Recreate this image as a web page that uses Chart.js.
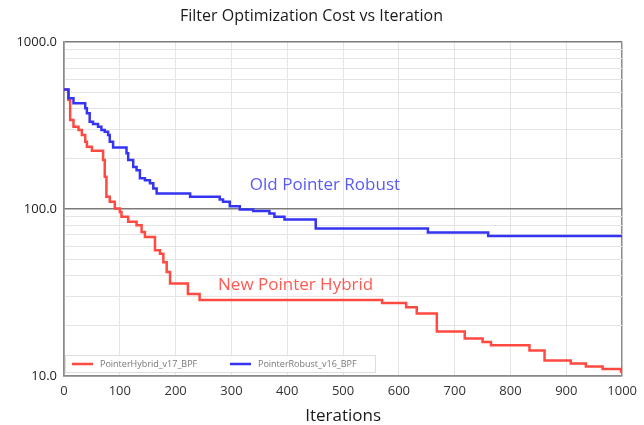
<!DOCTYPE html>
<html>
<head>
<meta charset="utf-8">
<script src="https://cdn.jsdelivr.net/npm/chart.js@4.4.1/dist/chart.umd.min.js"></script>
<style>
  html, body { margin: 0; padding: 0; background: #ffffff; }
  #wrap { width: 644px; height: 425px; position: relative; }
</style>
</head>
<body>
<div id="wrap"><canvas id="costChart" width="644" height="425"></canvas></div>
<script>
// Data
const robustIter = [0, 8, 17, 38, 41, 46, 52, 61, 67, 73, 79, 82, 88, 112, 115, 118, 124, 130, 136, 145, 154, 160, 166, 226, 279, 285, 297, 315, 339, 368, 377, 395, 451, 652, 760, 1000]
const robustCost = [520, 461, 431, 402, 375, 334, 324, 312, 298, 291, 278, 253, 234, 216, 197, 197, 179, 171, 153, 149, 143, 133, 124, 118.5, 114, 110.6, 104, 99.6, 97.3, 94, 90, 86.7, 76.6, 72.5, 69, 69]

const hybridIter = [0, 8, 11, 17, 26, 32, 38, 41, 50, 70, 73, 76, 82, 91, 100, 103, 115, 130, 139, 145, 163, 172, 178, 184, 190, 222, 243, 570, 613, 632, 668, 718, 750, 765, 834, 861, 908, 935, 965, 998, 1000]
const hybridCost = [520, 451, 342, 312, 298, 278, 253, 236, 224, 197, 156, 118.5, 110.6, 101, 96, 90, 84, 80, 73, 68, 56.7, 54, 48, 42, 35.8, 31, 28.5, 27.4, 25.8, 23.7, 18.5, 16.8, 16, 15.3, 14.2, 12.4, 11.9, 11.4, 11.0, 10.6, 10.6]

const iterTicks = [0, 100, 200, 300, 400, 500, 600, 700, 800, 900, 1000]
const costTicks = [10, 20, 30, 40, 50, 60, 70, 80, 90, 100, 200, 300, 400, 500, 600, 700, 800, 900, 1000]
const costLabels = { 10: "10.0", 100: "100.0", 1000: "1000.0" }

const seriesNames = ["PointerHybrid_v17_BPF", "PointerRobust_v16_BPF"]
const seriesColors = ["#ff4a42", "#3434f2"]

// Chart text
const chartTitle = "Filter Optimization Cost vs Iteration"
const xTitle = "Iterations"
const notes = [
  { text: "Old Pointer Robust", x: 333, y: 139, color: "#5a5af5" },
  { text: "New Pointer Hybrid", x: 276, y: 35, color: "#ff5a52" },
]

const FONT = "'Open Sans', 'Liberation Sans', sans-serif"

function toPoints(xs, ys) {
  return xs.map((x, i) => ({ x: x, y: ys[i] }))
}

// Annotations and inner legend
const overlayPlugin = {
  id: "overlay",
  afterDatasetsDraw(chart) {
    const ctx = chart.ctx
    const xs = chart.scales.x
    const ys = chart.scales.y
    ctx.save()

    ctx.font = "17px " + FONT
    ctx.textBaseline = "middle"
    ctx.textAlign = "left"
    notes.forEach((n) => {
      ctx.fillStyle = n.color
      ctx.fillText(n.text, xs.getPixelForValue(n.x), ys.getPixelForValue(n.y))
    })

    // legend box in the lower-left corner of the plot
    const left = chart.chartArea.left + 1
    const bottom = chart.chartArea.bottom - 4
    const boxH = 17
    const boxW = 310
    ctx.fillStyle = "rgba(255,255,255,0.92)"
    ctx.fillRect(left, bottom - boxH, boxW, boxH)
    ctx.strokeStyle = "#dddddd"
    ctx.lineWidth = 1
    ctx.strokeRect(left + 0.5, bottom - boxH + 0.5, boxW, boxH)

    ctx.font = "9px " + FONT
    const midY = bottom - boxH / 2 + 0.5
    const itemX = [left + 7, left + 165]
    seriesNames.forEach((name, i) => {
      ctx.strokeStyle = seriesColors[i]
      ctx.lineWidth = 2.5
      ctx.beginPath()
      ctx.moveTo(itemX[i], midY)
      ctx.lineTo(itemX[i] + 21, midY)
      ctx.stroke()
      ctx.fillStyle = "#777777"
      ctx.fillText(name, itemX[i] + 28, midY)
    })
    ctx.restore()
  },
}

new Chart(document.getElementById("costChart"), {
  type: "line",
  data: {
    datasets: [
      {
        label: seriesNames[1],
        data: toPoints(robustIter, robustCost),
        borderColor: seriesColors[1],
        borderWidth: 2.5,
        stepped: true,
        pointRadius: 0,
      },
      {
        label: seriesNames[0],
        data: toPoints(hybridIter, hybridCost),
        borderColor: seriesColors[0],
        borderWidth: 2.5,
        stepped: true,
        pointRadius: 0,
      },
    ],
  },
  options: {
    responsive: false,
    animation: false,
    layout: { padding: { left: 0, right: 21, top: 0, bottom: 0 } },
    plugins: {
      legend: { display: false },
      tooltip: { enabled: false },
      title: {
        display: true,
        text: chartTitle,
        color: "#1a1a1a",
        font: { family: FONT, size: 16, weight: "normal", lineHeight: 1.2 },
        padding: { top: 7, bottom: 16 },
      },
    },
    scales: {
      x: {
        type: "linear",
        min: 0,
        max: 1000,
        afterBuildTicks: (s) => { s.ticks = iterTicks.map((v) => ({ value: v })) },
        afterFit: (s) => { s.height = 49 },
        ticks: {
          color: "#333333",
          font: { family: FONT, size: 13 },
          padding: 7,
          maxRotation: 0,
          callback: (v) => String(v),
        },
        grid: {
          drawTicks: false,
          color: (c) => (c.tick && (c.tick.value === 0 || c.tick.value === 1000) ? "#8a8a8a" : "#e4e4e4"),
          lineWidth: (c) => (c.tick && (c.tick.value === 0 || c.tick.value === 1000) ? 1.5 : 1),
        },
        border: { color: "#8a8a8a", width: 1.5 },
        title: {
          display: true,
          text: xTitle,
          color: "#1a1a1a",
          font: { family: FONT, size: 17, lineHeight: 1 },
          padding: { top: 0, bottom: 0 },
        },
      },
      y: {
        type: "logarithmic",
        min: 10,
        max: 1000,
        afterBuildTicks: (s) => { s.ticks = costTicks.map((v) => ({ value: v })) },
        afterFit: (s) => { s.width = 64 },
        ticks: {
          autoSkip: false,
          color: "#222222",
          font: { family: FONT, size: 13 },
          padding: 7,
          callback: (v) => costLabels[v] || "",
        },
        grid: {
          drawTicks: false,
          color: (c) => (c.tick && costLabels[c.tick.value] ? "#7a7a7a" : "#e4e4e4"),
          lineWidth: (c) => (c.tick && costLabels[c.tick.value] ? 1.5 : 1),
        },
        border: { color: "#8a8a8a", width: 1.5 },
      },
    },
  },
  plugins: [overlayPlugin],
})
</script>
</body>
</html>
